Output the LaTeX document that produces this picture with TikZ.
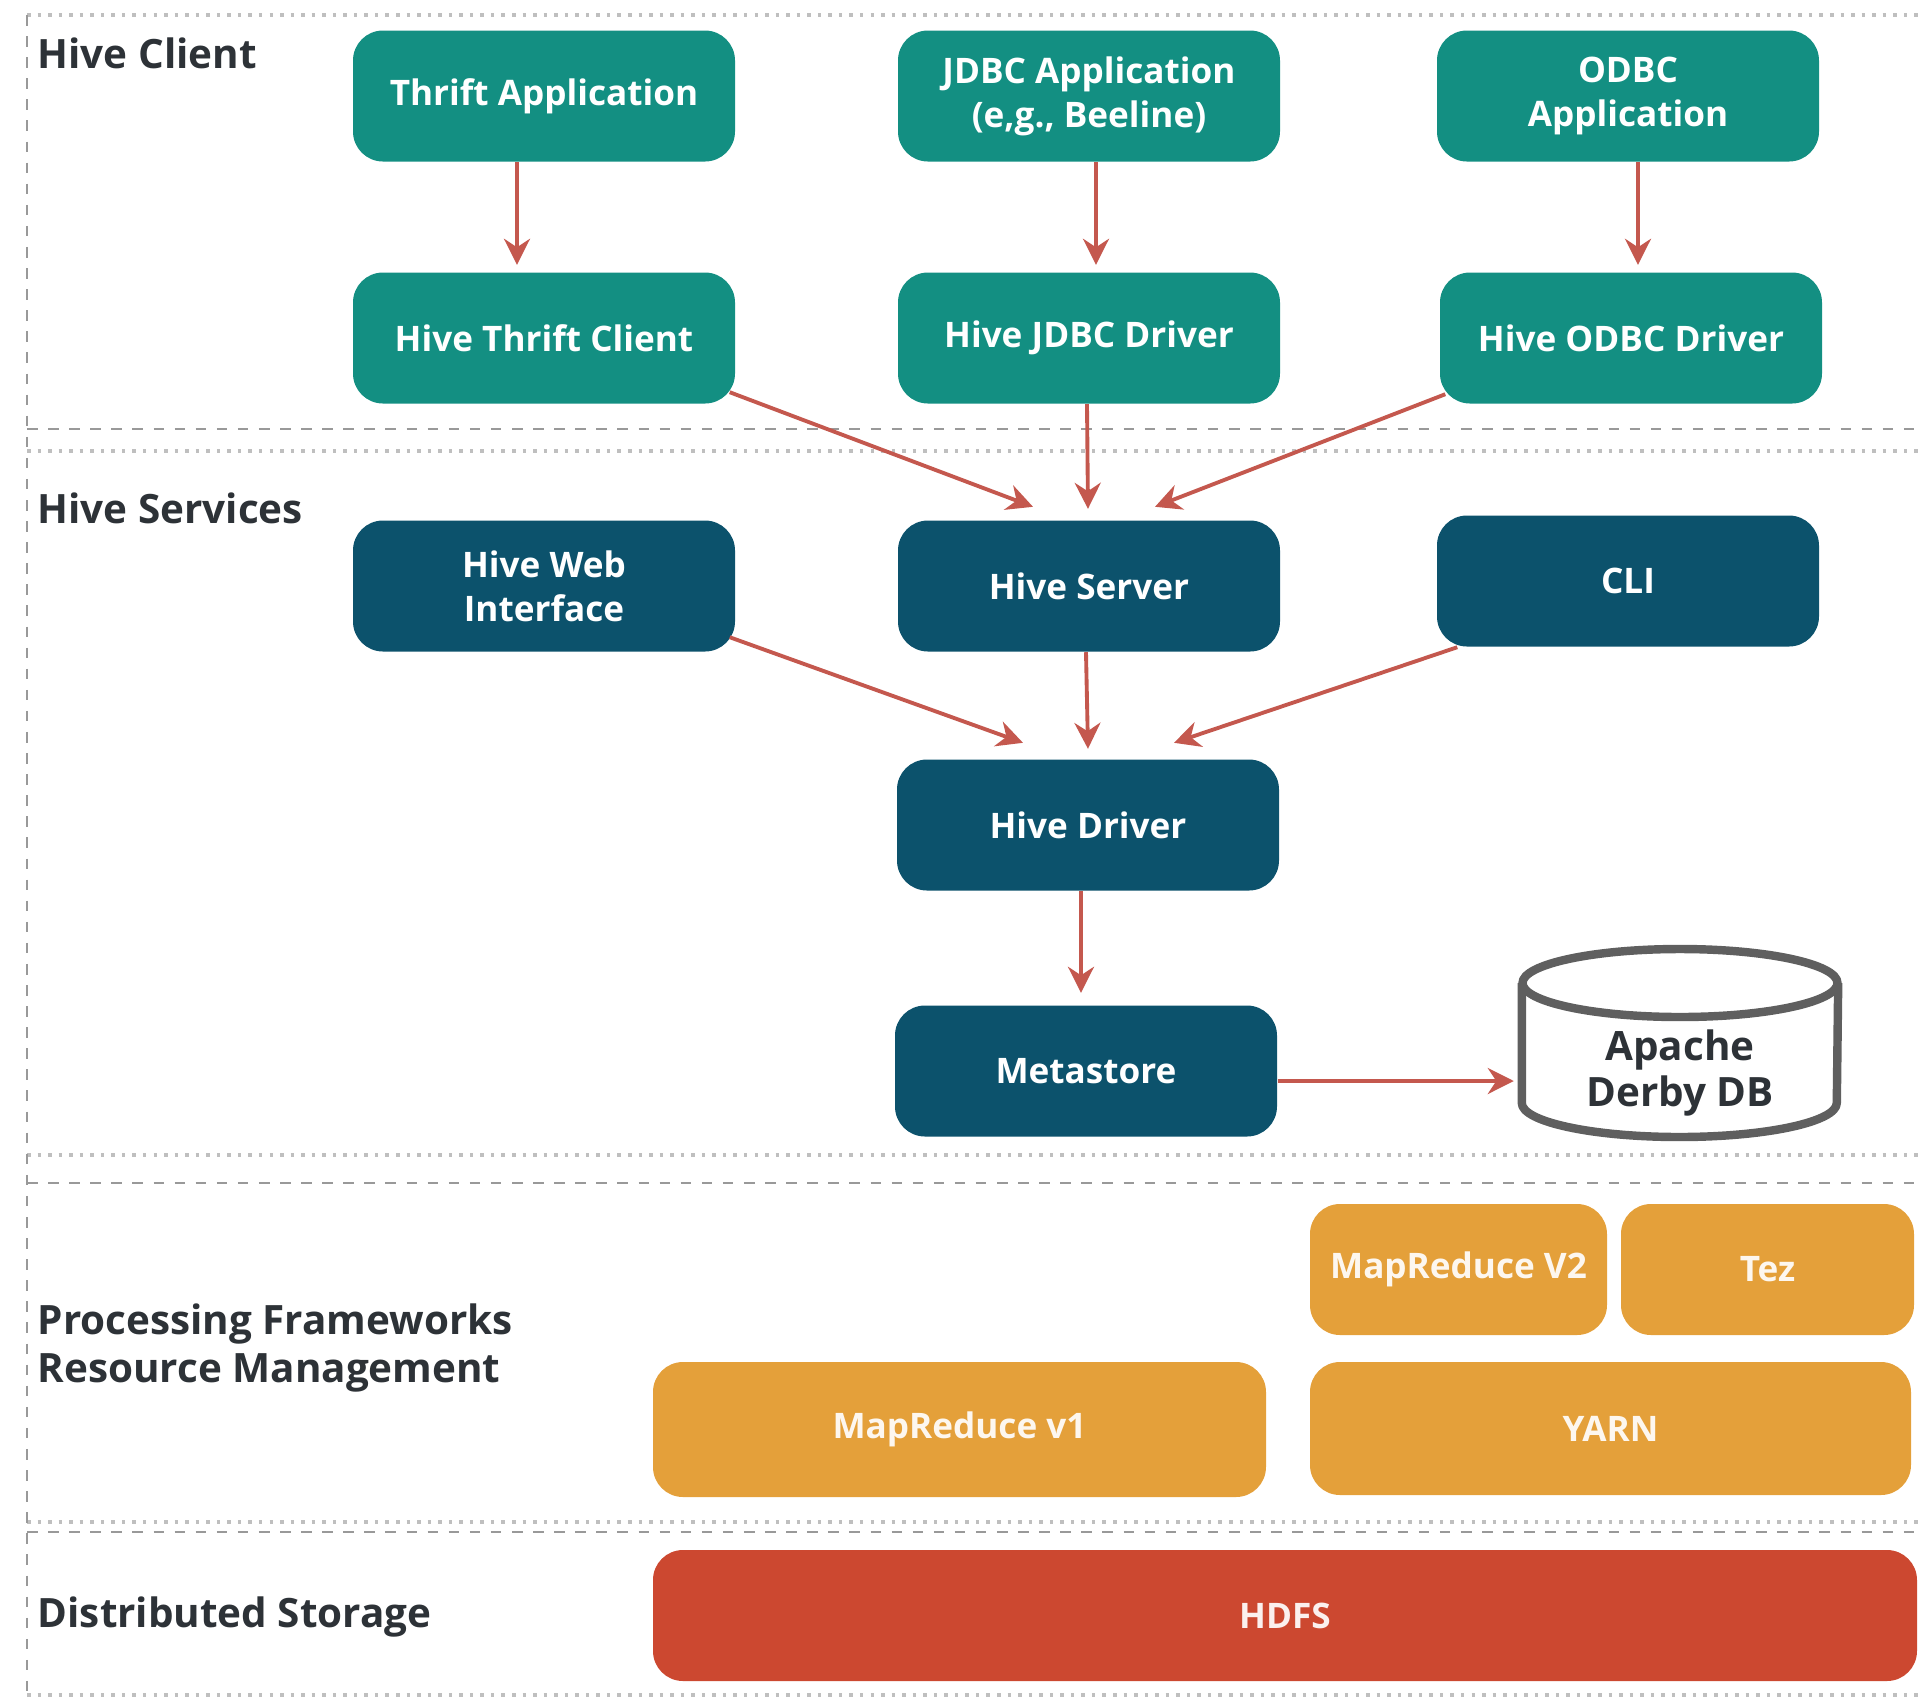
\documentclass[tikz,border=0pt]{standalone}
\usepackage{fontspec}
\setmainfont{Open Sans}
\usetikzlibrary{arrows.meta}
\definecolor{clientgreen}{RGB}{19,143,130}
\definecolor{servblue}{RGB}{12,82,108}
\definecolor{frameorange}{RGB}{228,160,58}
\definecolor{hdfsred}{RGB}{204,72,48}
\definecolor{arrowred}{RGB}{196,88,78}
\definecolor{labelgray}{RGB}{45,50,55}
\definecolor{dbgray}{RGB}{95,95,95}
\tikzset{
  box/.style={rounded corners=0.3cm, minimum width=3.82cm, minimum height=1.31cm, text=white, font=\bfseries\fontsize{10}{12.5}\selectfont, align=center, inner sep=0pt},
  clientbox/.style={box, fill=clientgreen},
  servbox/.style={box, fill=servblue},
  framebox/.style={box, fill=frameorange, text=white!92!frameorange},
  layer/.style={font=\bfseries\fontsize{11.5}{13.6}\selectfont, text=labelgray, anchor=west, align=left, inner sep=0pt},
  link/.style={->, draw=arrowred, line width=1.1pt},
  sepdash/.style={black!40, dashed, line width=0.8pt},
  sepdot/.style={black!25, dotted, line width=1pt}
}
\begin{document}
\begin{tikzpicture}[line join=round, >={Stealth[length=2.6mm,width=2.6mm]}]
	\useasboundingbox (0,0) rectangle (19.21,-16.99);
	% layer borders
	\foreach \y in {0.15,4.51,11.55,15.22,16.95} \draw[sepdot] (0.27,-\y)--(19.21,-\y);
	\foreach \y in {4.29,11.83,15.32} \draw[sepdash] (0.27,-\y)--(19.21,-\y);
	\draw[sepdash] (0.27,-0.15)--(0.27,-16.95);
	% layer names
	\node[layer] (lclient) at (0.37,-0.53) {Hive Client};
	\node[layer] (lserv) at (0.37,-5.08) {Hive Services};
	\node[layer] (lframe) at (0.37,-13.48) {Processing Frameworks\\Resource Management};
	\node[layer] (lstore) at (0.37,-16.17) {Distributed Storage};
	% hive client
	\node[clientbox] (thriftapp) at (5.44,-0.96) {Thrift Application};
	\node[clientbox] (jdbcapp) at (10.89,-0.96) {JDBC Application\\(e,g., Beeline)};
	\node[clientbox] (odbcapp) at (16.28,-0.96) {ODBC\\Application};
	\node[clientbox] (thriftcl) at (5.44,-3.38) {Hive Thrift Client};
	\node[clientbox] (jdbcdr) at (10.89,-3.38) {Hive JDBC Driver};
	\node[clientbox] (odbcdr) at (16.31,-3.38) {Hive ODBC Driver};
	% hive services
	\node[servbox] (webui) at (5.44,-5.86) {Hive Web\\Interface};
	\node[servbox] (server) at (10.89,-5.86) {Hive Server};
	\node[servbox] (cli) at (16.28,-5.81) {CLI};
	\node[servbox] (hdriver) at (10.88,-8.25) {Hive Driver};
	\node[servbox] (meta) at (10.86,-10.71) {Metastore};
	\node[font=\bfseries\fontsize{11.5}{13.2}\selectfont, text=labelgray, align=center, minimum width=3.15cm, inner sep=0pt] (derby) at (16.80,-10.73) {Apache\\Derby DB};
	\draw[dbgray, line width=2.4pt] ([yshift=0.9cm]derby.west)--([yshift=-0.3cm]derby.west)
		arc[start angle=180, end angle=360, x radius=1.575cm, y radius=0.34cm]--([yshift=0.9cm]derby.east);
	\draw[dbgray, line width=2.4pt] ([yshift=0.9cm]derby.center) ellipse[x radius=1.575cm, y radius=0.34cm];
	% frameworks and storage
	\node[framebox, minimum width=2.97cm] (mrtwo) at (14.585,-12.695) {MapReduce V2};
	\node[framebox, minimum width=2.93cm] (tez) at (17.675,-12.695) {Tez};
	\node[framebox, minimum width=6.13cm, minimum height=1.35cm] (mrone) at (9.595,-14.295) {MapReduce v1};
	\node[framebox, minimum width=6.01cm, minimum height=1.33cm] (yarn) at (16.105,-14.285) {YARN};
	\node[box, fill=hdfsred, text=white!92!hdfsred, minimum width=12.64cm] (hdfs) at (12.85,-16.155) {HDFS};
	% connectors
	\draw[link] ([xshift=-0.27cm]thriftapp.south)--([xshift=-0.27cm,yshift=0.07cm]thriftcl.north);
	\draw[link] ([xshift=0.07cm]jdbcapp.south)--([xshift=0.07cm,yshift=0.07cm]jdbcdr.north);
	\draw[link] ([xshift=0.1cm]odbcapp.south)--([xshift=0.07cm,yshift=0.07cm]odbcdr.north);
	\draw[link] ([shift={(-0.06,0.12)}]thriftcl.south east)--([shift={(-0.56,0.13)}]server.north);
	\draw[link] ([xshift=-0.02cm]jdbcdr.south)--([xshift=-0.01cm,yshift=0.11cm]server.north);
	\draw[link] ([shift={(0.06,0.1)}]odbcdr.south west)--([shift={(0.66,0.13)}]server.north);
	\draw[link] ([shift={(-0.06,0.15)}]webui.south east)--([shift={(-0.65,0.16)}]hdriver.north);
	\draw[link] ([xshift=-0.03cm]server.south)--([yshift=0.1cm]hdriver.north);
	\draw[link] ([xshift=0.21cm]cli.south west)--([shift={(0.86,0.16)}]hdriver.north);
	\draw[link] ([xshift=-0.07cm]hdriver.south)--([xshift=-0.05cm,yshift=0.12cm]meta.north);
	\draw[link] ([yshift=-0.1cm]meta.east)--([xshift=-0.08cm,yshift=-0.1cm]meta.east -| derby.west);
\end{tikzpicture}
\end{document}
